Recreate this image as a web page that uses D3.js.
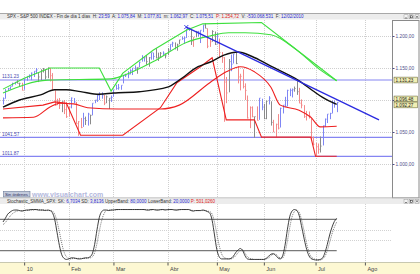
<!DOCTYPE html>
<html>
<head>
<meta charset="utf-8">
<script src="https://cdn.jsdelivr.net/npm/d3@7"></script>
<style>
  body { margin: 0; background: #fff; }
  text { font-family: "Liberation Sans", Arial, sans-serif; }
</style>
</head>
<body>
<div id="chart"></div>
<script>
// ---- data (daily bars, 18 Dec 2009 .. 15 Jul 2010) ----
var highs = [1104,1117,1119,1121,1127,1128,1131,1127,1127,
  1134,1137,1140,1143,1145,1150,1143,1148,1150,1148,1151,1150,1142,1115,1102,1103,1098,1100,1097,
  1089,1104,1103,1097,1067,1072,1080,1074,1080,1077,1095,1100,1108,1112,1112,1108,1107,1103,1107,
  1116,1124,1125,1123,1139,1141,1145,1148,1150,1154,1151,1160,1170,1167,1170,1167,1174,1174,1181,1174,1175,1176,1173,
  1181,1187,1191,1190,1188,1194,1199,1199,1211,1213,1211,1198,1208,1208,1209,1217,1220,1212,1195,1209,1207,
  1205,1196,1175,1167,1136,1164,1171,1172,1174,1153,1141,1148,1126,1107,1090,1090,1074,1090,1103,1102,
  1094,1099,1106,1098,1069,1063,1078,1088,1092,1105,1116,1118,1118,1121,1131,1119,1101,1092,1083,1082,1071,1043,
  1033,1032,1043,1060,1071,1078,1080,1099,1099,1097];
var lows = [1093,1102,1114,1116,1121,1124,1126,1121,1115,
  1116,1130,1134,1131,1136,1142,1128,1131,1143,1132,1134,1129,1115,1091,1092,1086,1081,1078,1072,
  1074,1087,1095,1063,1044,1056,1058,1061,1060,1062,1076,1095,1097,1100,1102,1092,1095,1086,1097,
  1105,1116,1116,1116,1126,1136,1134,1140,1139,1146,1141,1151,1160,1160,1155,1152,1163,1163,1165,1161,1166,1169,1165,
  1170,1177,1183,1179,1177,1187,1194,1188,1197,1208,1186,1183,1198,1199,1189,1206,1212,1181,1183,1191,1186,
  1188,1167,1158,1066,1095,1112,1145,1157,1156,1126,1115,1118,1100,1071,1056,1073,1041,1068,1069,1084,
  1070,1070,1093,1060,1050,1042,1054,1057,1079,1089,1090,1106,1104,1113,1108,1095,1087,1072,1068,1071,1039,1029,
  1011,1016,1018,1029,1058,1064,1070,1079,1088,1081];
var closes = [1102,1114,1118,1121,1126,1128,1126,1126,1115,
  1133,1137,1137,1142,1145,1147,1136,1146,1148,1136,1150,1138,1116,1092,1097,1092,1098,1085,1074,
  1089,1103,1097,1063,1066,1057,1071,1068,1078,1076,1095,1100,1107,1109,1108,1095,1105,1103,1104,
  1116,1118,1119,1123,1139,1138,1140,1146,1150,1150,1151,1159,1166,1166,1160,1166,1174,1168,1166,1167,1173,1173,1169,
  1178,1187,1189,1182,1186,1194,1196,1197,1211,1212,1192,1198,1207,1206,1209,1217,1212,1184,1191,1207,1187,
  1202,1174,1166,1128,1111,1160,1156,1172,1157,1136,1137,1121,1115,1072,1088,1074,1074,1068,1103,1089,
  1071,1098,1103,1065,1050,1062,1056,1087,1092,1090,1115,1115,1116,1118,1113,1095,1092,1074,1077,1075,1041,1031,
  1027,1023,1028,1060,1070,1078,1079,1095,1095,1096];

// overlay lines: [bar index, price]
var maLine = [[0,1089],[7,1100],[16,1108],[22,1116],[27,1116],[33,1113],[41,1109],[47,1111],[58,1113],
  [70,1120],[75,1131],[83,1152],[88,1159],[94,1170],[100,1175],[106,1168],[113,1155],[120,1142],
  [126,1130],[132,1114],[136,1104],[142,1093]];
var upperGreen = [[0,1117],[9,1134],[20,1150],[41,1150],[46,1114],[51,1142],[64,1178],[78,1209],
  [85,1219],[110,1221],[142,1130]];
var innerGreen = [[0,1111],[19,1131],[46,1133],[51,1138],[64,1160],[78,1190],[88,1200],[96,1205],
  [103,1205],[114,1202],[125,1178],[135,1147],[142,1130]];
var supportRed = [[0,1086],[17,1092],[22,1097],[27,1095],[33,1045],[51,1045],[67,1088],[74,1127],
  [84,1152],[89,1166],[95,1069],[107,1069],[110,1042],[131,1042],[133,1012],[142,1012]];
var innerRed = [[0,1072],[13,1073],[20,1089],[24,1095],[30,1094],[36,1088],[49,1086],[67,1086],
  [75,1092],[88,1127],[95,1144],[101,1152],[107,1144],[114,1120],[118,1092],[126,1084],[131,1073],
  [135,1058],[142,1059]];
var trendLine = [[78,1214],[160,1069]];
var levels = [1131.23, 1041.57, 1011.87];
var priceTicks = [1000, 1050, 1100, 1150, 1200];
var valueBoxes = [1096.48, 1092.27];

// stochastic
var sk = [75,82,90,94,97,98,98,97,96,97, 98,98,99,99,99,98,98,98,97,98,
  97,93,80,55,30,12,5,3,4,6, 6,5,4,4,5,6,6,8,14,32,
  60,84,95,98,98,97,98,98,99,99, 99,99,99,99,99,99,99,99,99,99,
  99,98,98,99,99,98,98,99,99,98, 99,99,99,98,98,99,99,99,99,99,
  97,96,97,97,97,98,97,95,92,78, 50,22,8,4,4,4,4,5,9,16,
  21,24,20,10,4,3,3,3,3,3, 3,3,5,9,13,14,11,6,4,10,
  30,60,85,96,99,97,88,68,46,26, 12,5,3,2,2,3,6,16,32,50, 65,76,82];
var sd = [70,74,80,86,91,94,96,97,97,97, 97,98,98,98,99,99,98,98,98,97,
  97,96,90,76,56,34,17,8,5,4, 5,5,5,5,5,5,6,6,8,16,
  34,58,78,91,97,98,98,98,98,99, 99,99,99,99,99,99,99,99,99,99,
  99,99,98,98,99,99,98,98,99,99, 98,99,99,99,98,98,99,99,99,99,
  98,97,97,97,97,97,97,96,95,90, 74,52,30,14,7,5,4,4,6,10,
  16,20,21,15,8,5,4,3,3,3, 3,3,4,6,10,13,13,9,6,6,
  16,38,64,85,95,98,94,80,60,38, 20,9,5,3,2,2,4,9,20,36, 52,65,75];
var bands = [80, 20];
var stochGrid = [40, 60];

var monthIdx = [9, 28, 47, 70, 91, 111, 133, 154];
var monthLabels = ["10", "Feb", "Mar", "Abr", "May", "Jun", "Jul", "Ago"];

// ---- layout ----
var width = 420, height = 274;
var plotRight = 392;
var mainTop = 20, mainBottom = 198;
var stochTop = 204, stochBottom = 262.5;

var svg = d3.select("#chart").append("svg")
    .attr("width", width)
    .attr("height", height);
svg.append("rect").attr("width", width).attr("height", height).attr("fill", "#fff");

var x = d3.scaleLinear().domain([0, 166]).range([3, 393.1]);
var y = d3.scaleLinear().domain([1000, 1200]).range([164, 36]);
var ys = d3.scaleLinear().domain([0, 100]).range([261, 209]);

var es = d3.formatLocale({decimal: ",", thousands: ".", grouping: [3], currency: ["", ""]});
var fmtPrice = es.format(",.2f");

var defs = svg.append("defs");
defs.append("clipPath").attr("id", "clipMain").append("rect")
    .attr("x", 0).attr("y", mainTop).attr("width", plotRight).attr("height", mainBottom - mainTop);

// title bars
function titleBar(yTop, parts) {
    svg.append("line").attr("x1", 0).attr("x2", width).attr("y1", yTop - 0.5).attr("y2", yTop - 0.5)
        .attr("stroke", "#a8a8a8");
    svg.append("rect").attr("x", 0).attr("y", yTop).attr("width", width).attr("height", 5.5)
        .attr("fill", "#ececec");
    var t = svg.append("text").attr("x", 7).attr("y", yTop + 4.4)
        .attr("font-size", 4.5).style("white-space", "pre");
    parts.forEach(function (p) {
        t.append("tspan").attr("fill", p[1]).text(p[0]);
    });
    // window buttons
    [404, 409.5, 415].forEach(function (bx, k) {
        svg.append("rect").attr("x", bx).attr("y", yTop + 0.8).attr("width", 4).attr("height", 4)
            .attr("fill", "#f4f4f4").attr("stroke", "#888").attr("stroke-width", 0.4);
        var g = svg.append("g").attr("stroke", "#333").attr("stroke-width", 0.6);
        if (k == 0) g.append("line").attr("x1", bx + 1).attr("x2", bx + 3).attr("y1", yTop + 4).attr("y2", yTop + 4);
        if (k == 1) g.append("rect").attr("x", bx + 1).attr("y", yTop + 1.8).attr("width", 2).attr("height", 2).attr("fill", "none");
        if (k == 2) {
            g.append("line").attr("x1", bx + 1).attr("x2", bx + 3).attr("y1", yTop + 1.8).attr("y2", yTop + 3.8);
            g.append("line").attr("x1", bx + 3).attr("x2", bx + 1).attr("y1", yTop + 1.8).attr("y2", yTop + 3.8);
        }
    });
}
var dk = "#333", bl = "#2b2bd0", rd = "#e02020";
titleBar(14, [["SPX - S&P 500 INDEX - Fin de día 1 días  H: ", dk], ["23:59", bl], ["  A: ", dk], ["1.075,84", bl],
    ["  M: ", dk], ["1.077,81", bl], ["  m: ", dk], ["1.062,97", bl], ["  C: ", dk], ["1.075,51", bl],
    ["  P: ", rd], ["1.254,72", rd], ["  V: ", dk], ["-530.068.531", bl], ["  F: ", dk], ["12/02/2010", bl]]);

// ---- main panel ----
var main = svg.append("g");

// grid
main.selectAll(".hgrid").data(priceTicks).enter().append("line")
    .attr("x1", 0).attr("x2", plotRight).attr("y1", function (d) { return Math.round(y(d)) + 0.5; })
    .attr("y2", function (d) { return Math.round(y(d)) + 0.5; })
    .attr("stroke", "#cfcfcf").attr("stroke-dasharray", "1,1");
main.selectAll(".vgrid").data(monthIdx).enter().append("line")
    .attr("x1", function (d) { return Math.round(x(d)) + 0.5; }).attr("x2", function (d) { return Math.round(x(d)) + 0.5; })
    .attr("y1", mainTop).attr("y2", mainBottom)
    .attr("stroke", "#cfcfcf").attr("stroke-dasharray", "1,1");

// horizontal levels
main.selectAll(".level").data(levels).enter().append("line")
    .attr("x1", 0).attr("x2", plotRight)
    .attr("y1", function (d) { return y(d); }).attr("y2", function (d) { return y(d); })
    .attr("stroke", "#8585f2").attr("stroke-width", 1.2);
main.selectAll(".levelLabel").data(levels).enter().append("text")
    .attr("x", 2).attr("y", function (d) { return y(d) - 1.6; })
    .attr("font-size", 4.8).attr("fill", "#4a4ab0")
    .text(function (d) { return d3.format(".2f")(d); });

// bars
function barColor(i) {
    if (i < 3) return "#7f86f4";
    var chg = (closes[i] - closes[i - 3]) / closes[i - 3];
    if (chg > 0.006) return "#7f86f4";
    if (chg < -0.006) return "#f38a8a";
    return "#8a8a8a";
}
var bars = main.append("g").attr("clip-path", "url(#clipMain)");
closes.forEach(function (c, i) {
    var bx = Math.round(x(i)) + 0.5;
    bars.append("line").attr("x1", bx).attr("x2", bx).attr("y1", y(highs[i])).attr("y2", y(lows[i]))
        .attr("stroke", barColor(i)).attr("stroke-width", 1);
    bars.append("line").attr("x1", bx).attr("x2", bx + 1.2).attr("y1", y(c)).attr("y2", y(c))
        .attr("stroke", barColor(i)).attr("stroke-width", 0.8);
});

// overlay lines
var line = d3.line().x(function (d) { return x(d[0]); }).y(function (d) { return y(d[1]); });
var lines = main.append("g").attr("clip-path", "url(#clipMain)").attr("fill", "none");
lines.append("path").datum(innerRed).attr("d", line.curve(d3.curveMonotoneX)).attr("stroke", "#ee2020").attr("stroke-width", 1.1);
lines.append("path").datum(supportRed).attr("d", line.curve(d3.curveLinear)).attr("stroke", "#ee2020").attr("stroke-width", 1.1);
lines.append("path").datum(innerGreen).attr("d", line.curve(d3.curveMonotoneX)).attr("stroke", "#3ee03e").attr("stroke-width", 1.1);
lines.append("path").datum(upperGreen).attr("d", line.curve(d3.curveLinear)).attr("stroke", "#3ee03e").attr("stroke-width", 1.1);
lines.append("path").datum(maLine).attr("d", line.curve(d3.curveMonotoneX)).attr("stroke", "#111").attr("stroke-width", 1.4);
lines.append("path").datum(trendLine).attr("d", line.curve(d3.curveLinear)).attr("stroke", "#2b2be0").attr("stroke-width", 1.3);
// trendline anchor mark
var tx = x(trendLine[0][0]), ty = y(trendLine[0][1]);
lines.append("path").attr("d", "M" + (tx - 2) + "," + (ty - 2) + "L" + (tx + 2) + "," + (ty + 2) + "M" + (tx + 2) + "," + (ty - 2) + "L" + (tx - 2) + "," + (ty + 2))
    .attr("stroke", "#2b2be0").attr("stroke-width", 0.9);

// right axis
svg.append("rect").attr("x", plotRight + 0.5).attr("y", mainTop + 0.5).attr("width", width - plotRight - 1.5)
    .attr("height", mainBottom - mainTop - 0.5).attr("fill", "#fff").attr("stroke", "#8a8a8a");
var axisG = svg.append("g").attr("transform", "translate(" + (plotRight + 0.5) + ",0)")
    .call(d3.axisRight(y).tickValues(priceTicks).tickSize(2).tickPadding(1).tickFormat(fmtPrice));
axisG.select(".domain").remove();
axisG.selectAll("text").attr("font-size", 4.8).attr("fill", "#50508a").attr("font-family", "Liberation Sans, Arial, sans-serif");
axisG.selectAll("line").attr("stroke", "#50508a");

// value boxes (the upper of two colliding boxes is nudged up, as the platform does)
function valueBox(v, nudge) {
    var g = svg.append("g").attr("transform", "translate(" + (plotRight + 2) + "," + (y(v) - (nudge || 0)) + ")");
    g.append("rect").attr("x", 0).attr("y", -2.9).attr("width", 23.5).attr("height", 5.8)
        .attr("fill", "#f1efb4").attr("stroke", "#55552a").attr("stroke-width", 0.5);
    g.append("text").attr("x", 1.5).attr("y", 1.8).attr("font-size", 4.6).attr("fill", "#222").text(fmtPrice(v));
}
valueBox(levels[0]);
valueBox(valueBoxes[0], 3.3);
valueBox(valueBoxes[1]);

// watermark + button
svg.append("rect").attr("x", 3.5).attr("y", 191.5).attr("width", 26.5).attr("height", 5.5)
    .attr("fill", "#c3cbdc").attr("stroke", "#6a7898").attr("stroke-width", 0.6);
svg.append("text").attr("x", 5).attr("y", 195.7).attr("font-size", 4.3).attr("fill", "#303060").text("Sin órdenes");
svg.append("text").attr("x", 32).attr("y", 197).attr("font-size", 7).attr("font-weight", "bold")
    .attr("fill", "#b3b8dc").text("www.visualchart.com");

// ---- stochastic panel ----
titleBar(mainBottom + 0.5, [["Stochastic_SMMA_SPX: SK: ", dk], ["6,7034", bl], [" SD: ", dk], ["3,8136", bl],
    [" UpperBand: ", dk], ["80,0000", bl], [" LowerBand: ", dk], ["20,0000", bl], [" P: ", rd], ["501,0260", rd]]);

var st = svg.append("g");
st.selectAll(".sgrid").data(stochGrid).enter().append("line")
    .attr("x1", 0).attr("x2", plotRight).attr("y1", function (d) { return Math.round(ys(d)) + 0.5; })
    .attr("y2", function (d) { return Math.round(ys(d)) + 0.5; })
    .attr("stroke", "#d2d2d2").attr("stroke-dasharray", "1,1");
st.selectAll(".svgrid").data(monthIdx).enter().append("line")
    .attr("x1", function (d) { return Math.round(x(d)) + 0.5; }).attr("x2", function (d) { return Math.round(x(d)) + 0.5; })
    .attr("y1", stochTop).attr("y2", stochBottom)
    .attr("stroke", "#d2d2d2").attr("stroke-dasharray", "1,1");
st.selectAll(".band").data(bands).enter().append("line")
    .attr("x1", 0).attr("x2", x(closes.length - 1))
    .attr("y1", function (d) { return ys(d); }).attr("y2", function (d) { return ys(d); })
    .attr("stroke", "#7a7a7a").attr("stroke-width", 1.3);

var sline = d3.line().x(function (d, i) { return x(i); }).y(function (d) { return ys(d); }).curve(d3.curveMonotoneX);
st.append("path").datum(sd).attr("d", sline).attr("fill", "none").attr("stroke", "#555")
    .attr("stroke-width", 0.8).attr("stroke-dasharray", "1,1");
st.append("path").datum(sk).attr("d", sline).attr("fill", "none").attr("stroke", "#2a2a2a").attr("stroke-width", 0.9);

// time axis strip
svg.append("rect").attr("x", 0).attr("y", stochBottom).attr("width", width).attr("height", height - stochBottom)
    .attr("fill", "#fdf8d3");
svg.append("line").attr("x1", 0).attr("x2", width).attr("y1", stochBottom).attr("y2", stochBottom).attr("stroke", "#c8c8b0");
var xAxis = svg.append("g").attr("transform", "translate(0," + stochBottom + ")")
    .call(d3.axisBottom(x).tickValues(monthIdx).tickSize(3).tickFormat(function (d, i) { return monthLabels[i]; }));
xAxis.select(".domain").remove();
xAxis.selectAll("line").attr("stroke", "#555");
xAxis.selectAll("text").attr("font-size", 5.5).attr("fill", "#444").attr("text-anchor", "start")
    .attr("dx", 2).attr("dy", 0).attr("y", 8.5).attr("font-family", "Liberation Sans, Arial, sans-serif");
</script>
</body>
</html>
